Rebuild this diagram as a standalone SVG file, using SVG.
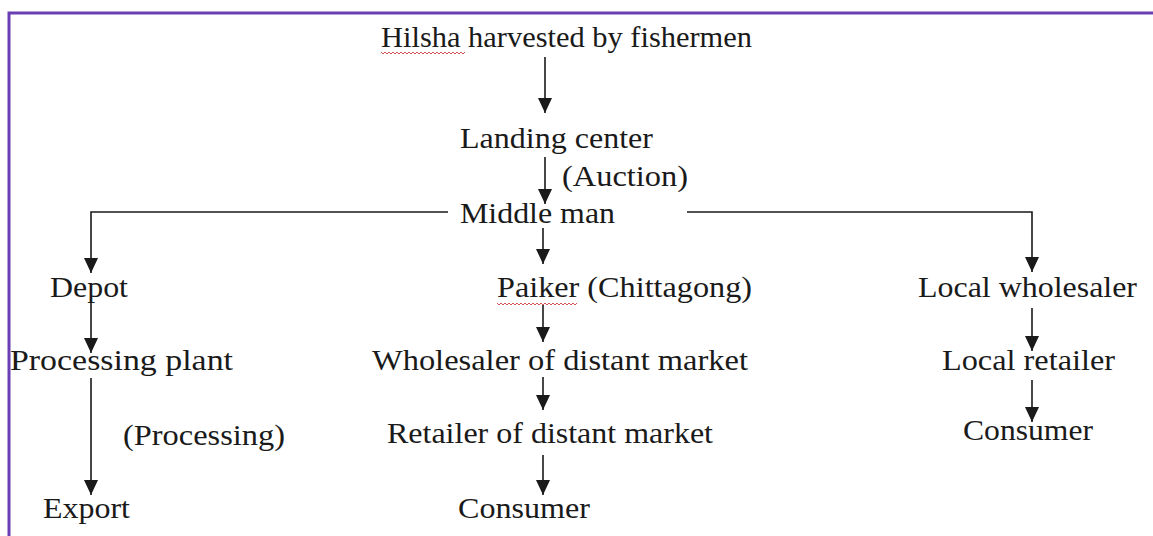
<svg xmlns="http://www.w3.org/2000/svg" width="1153" height="536" viewBox="0 0 1153 536">
<style>
.t{font-family:"Liberation Serif","Times New Roman","DejaVu Serif",serif;font-size:30px;fill:#1a1a1a}
.c{fill:none;stroke:#1a1a1a;stroke-width:1.6}
.sq{fill:none;stroke:#d04040;stroke-width:0.9}
.frame{fill:none;stroke:#6b3fb3;stroke-width:3}
</style>
<defs>
<marker id="ah" viewBox="0 0 15 14" refX="15" refY="7" markerWidth="15" markerHeight="14" markerUnits="userSpaceOnUse" orient="auto">
<path d="M0,0 L15,7 L0,14 z" fill="#1a1a1a"/>
</marker>
</defs>
<rect width="1153" height="536" fill="#ffffff"/>
<path class="frame" d="M9,536 V13 H1153"/>
<g id="connectors">
<path class="c" d="M545,57 V113" marker-end="url(#ah)"/>
<path class="c" d="M545,157 V204" marker-end="url(#ah)"/>
<path class="c" d="M543,228 V264" marker-end="url(#ah)"/>
<path class="c" d="M448,212 H91 V273" marker-end="url(#ah)"/>
<path class="c" d="M687,212 H1032 V272" marker-end="url(#ah)"/>
<path class="c" d="M91,303 V353" marker-end="url(#ah)"/>
<path class="c" d="M91,378 V495" marker-end="url(#ah)"/>
<path class="c" d="M543,305 V342" marker-end="url(#ah)"/>
<path class="c" d="M543,377 V410" marker-end="url(#ah)"/>
<path class="c" d="M543,455 V495" marker-end="url(#ah)"/>
<path class="c" d="M1032,308 V351" marker-end="url(#ah)"/>
<path class="c" d="M1032,380 V422" marker-end="url(#ah)"/>
</g>
<g font-family="Liberation Serif, Times New Roman, DejaVu Serif, serif">
<g id="n-hilsha"><text class="t" x="381" y="47" textLength="371" lengthAdjust="spacingAndGlyphs">Hilsha harvested by fishermen</text>
<path class="sq" d="M381,52 l2,2 l2,-2 l2,2 l2,-2 l2,2 l2,-2 l2,2 l2,-2 l2,2 l2,-2 l2,2 l2,-2 l2,2 l2,-2 l2,2 l2,-2 l2,2 l2,-2 l2,2 l2,-2 l2,2 l2,-2 l2,2 l2,-2 l2,2 l2,-2 l2,2 l2,-2 l2,2 l2,-2 l2,2 l2,-2 l2,2 l2,-2 l2,2 l2,-2 l2,2 l2,-2 l2,2 l2,-2 l2,2 l2,-2"/></g>
<g id="n-landing"><text class="t" x="460" y="148" textLength="193" lengthAdjust="spacingAndGlyphs">Landing center</text></g>
<g id="n-auction"><text class="t" x="562" y="186" textLength="126" lengthAdjust="spacingAndGlyphs">(Auction)</text></g>
<g id="n-middle"><text class="t" x="460" y="223" textLength="155" lengthAdjust="spacingAndGlyphs">Middle man</text></g>
<g id="n-depot"><text class="t" x="50" y="297" textLength="78" lengthAdjust="spacingAndGlyphs">Depot</text></g>
<g id="n-paiker"><text class="t" x="497" y="297" textLength="255" lengthAdjust="spacingAndGlyphs">Paiker (Chittagong)</text>
<path class="sq" d="M497,303 l2,2 l2,-2 l2,2 l2,-2 l2,2 l2,-2 l2,2 l2,-2 l2,2 l2,-2 l2,2 l2,-2 l2,2 l2,-2 l2,2 l2,-2 l2,2 l2,-2 l2,2 l2,-2 l2,2 l2,-2 l2,2 l2,-2 l2,2 l2,-2 l2,2 l2,-2 l2,2 l2,-2 l2,2 l2,-2 l2,2 l2,-2 l2,2 l2,-2 l2,2 l2,-2 l2,2 l2,-2"/></g>
<g id="n-localwholesaler"><text class="t" x="918" y="297" textLength="219" lengthAdjust="spacingAndGlyphs">Local wholesaler</text></g>
<g id="n-processingplant"><text class="t" x="10" y="370" textLength="223" lengthAdjust="spacingAndGlyphs">Processing plant</text></g>
<g id="n-wholesaler"><text class="t" x="372" y="370" textLength="376" lengthAdjust="spacingAndGlyphs">Wholesaler of distant market</text></g>
<g id="n-localretailer"><text class="t" x="942" y="370" textLength="173" lengthAdjust="spacingAndGlyphs">Local retailer</text></g>
<g id="n-processing"><text class="t" x="123" y="445" textLength="162" lengthAdjust="spacingAndGlyphs">(Processing)</text></g>
<g id="n-retailer"><text class="t" x="387" y="443" textLength="326" lengthAdjust="spacingAndGlyphs">Retailer of distant market</text></g>
<g id="n-consumer-r"><text class="t" x="963" y="440" textLength="130" lengthAdjust="spacingAndGlyphs">Consumer</text></g>
<g id="n-export"><text class="t" x="43" y="518" textLength="87" lengthAdjust="spacingAndGlyphs">Export</text></g>
<g id="n-consumer-m"><text class="t" x="458" y="518" textLength="132" lengthAdjust="spacingAndGlyphs">Consumer</text></g>
</g>
</svg>
